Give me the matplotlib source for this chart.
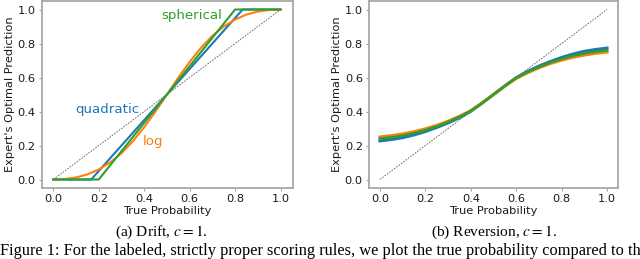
import matplotlib
matplotlib.use("Agg")
import matplotlib.pyplot as plt

plt.rcParams['mathtext.fontset'] = 'stix'

# ---- data ----
diag_x = [0.0, 1.0]
diag_y = [0.0, 1.0]

# (a) Drift
quad_x = [0.0, 1/6, 5/6, 1.0]
quad_y = [0.0, 0.0, 1.0, 1.0]
sph_x = [0.0, 0.2, 0.8, 1.0]
sph_y = [0.0, 0.0, 1.0, 1.0]
log_x = [0.0, 0.05, 0.1, 0.15, 0.2, 0.25, 0.3, 0.35, 0.4, 0.45, 0.5,
         0.55, 0.6, 0.65, 0.7, 0.75, 0.8, 0.85, 0.9, 0.95, 1.0]
log_y = [0.0, 0.003, 0.012, 0.030, 0.059, 0.100, 0.155, 0.225, 0.308, 0.401, 0.5,
         0.599, 0.692, 0.775, 0.845, 0.900, 0.941, 0.970, 0.988, 0.997, 1.0]

# (b) Reversion
rev_x = [0.0, 0.05, 0.1, 0.15, 0.2, 0.25, 0.3, 0.35, 0.4, 0.45, 0.5,
         0.55, 0.6, 0.65, 0.7, 0.75, 0.8, 0.85, 0.9, 0.95, 1.0]
rev_quad = [0.227, 0.235, 0.246, 0.262, 0.282, 0.306, 0.333, 0.364, 0.401, 0.449, 0.5,
            0.551, 0.599, 0.636, 0.667, 0.694, 0.718, 0.738, 0.754, 0.765, 0.773]
rev_log = [0.25, 0.258, 0.268, 0.281, 0.298, 0.318, 0.343, 0.372, 0.405, 0.451, 0.5,
           0.549, 0.595, 0.628, 0.657, 0.682, 0.702, 0.719, 0.732, 0.742, 0.75]
rev_sph = [0.24, 0.248, 0.258, 0.272, 0.29, 0.312, 0.338, 0.368, 0.403, 0.45, 0.5,
           0.55, 0.597, 0.632, 0.662, 0.688, 0.71, 0.728, 0.742, 0.752, 0.76]

ticks = [0.0, 0.2, 0.4, 0.6, 0.8, 1.0]
tick_labels = ['0.0', '0.2', '0.4', '0.6', '0.8', '1.0']

BLUE, ORANGE, GREEN = '#1f77b4', '#ff7f0e', '#2ca02c'

fig = plt.figure(figsize=(6.4, 2.59), dpi=100)
H = 259.0
W = 640.0

def make_ax(x0, x1, y0, y1):
    ax = fig.add_axes([x0 / W, 1 - y1 / H, (x1 - x0) / W, (y1 - y0) / H])
    for s in ax.spines.values():
        s.set_color('#a8a8a8')
        s.set_linewidth(1.3)
    ax.tick_params(length=2.5, width=0.8, color='#a8a8a8', labelsize=8.2,
                   labelcolor='#1a1a1a', pad=2)
    ax.set_xticks(ticks, tick_labels)
    ax.set_yticks(ticks, tick_labels)
    ax.set_xlim(-0.05, 1.055)
    ax.set_ylim(-0.05, 1.05)
    ax.set_xlabel('True Probability', fontsize=8.2, labelpad=1, color='#1a1a1a')
    ax.set_ylabel("Expert's Optimal Prediction", fontsize=8.2, labelpad=2, color='#1a1a1a')
    return ax

ax1 = make_ax(42, 293, 1, 188)
ax1.plot(diag_x, diag_y, color='0.35', lw=0.6, ls=(0, (2, 1.5)))
ax1.plot(quad_x, quad_y, color=BLUE, lw=1.5)
ax1.plot(log_x, log_y, color=ORANGE, lw=1.5)
ax1.plot(sph_x, sph_y, color=GREEN, lw=1.5)
ax1.text(0.474, 0.966, 'spherical', color=GREEN, fontsize=9.6, va='center', ha='left')
ax1.text(0.098, 0.41, 'quadratic', color=BLUE, fontsize=9.6, va='center', ha='left')
ax1.text(0.394, 0.221, 'log', color=ORANGE, fontsize=9.6, va='center', ha='left')

ax2 = make_ax(369, 618, 1, 188)
ax2.set_xlim(-0.048, 1.048)
ax2.plot(diag_x, diag_y, color='0.35', lw=0.6, ls=(0, (2, 1.5)))
ax2.plot(rev_x, rev_quad, color=BLUE, lw=2.2)
ax2.plot(rev_x, rev_log, color=ORANGE, lw=2.2)
ax2.plot(rev_x, rev_sph, color=GREEN, lw=1.8)

cap_kw = dict(fontsize=11.1, family='Liberation Serif', ha='center', va='baseline')
fig.text(161.5 / W, 1 - 235.7 / H, r'(a) Drift, $c = 1$.', **cap_kw)
fig.text(494 / W, 1 - 235.7 / H, r'(b) Reversion, $c = 1$.', **cap_kw)
fig.text(0.0, 1 - 254.8 / H,
         'Figure 1: For the labeled, strictly proper scoring rules, we plot the true probability compared to the',
         fontsize=11.8, family='Liberation Serif', ha='left', va='baseline')

fig.savefig('out.png', dpi=100)
